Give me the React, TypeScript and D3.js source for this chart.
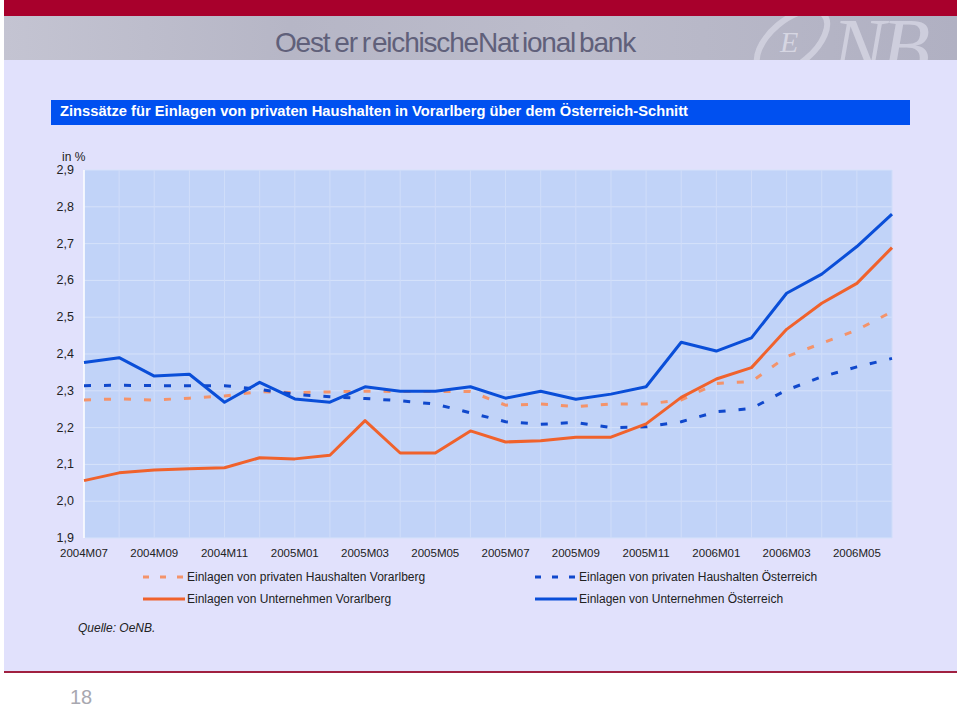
import React from "react";
import * as d3 from "d3";

const months = [
  "2004M07", "2004M08", "2004M09", "2004M10", "2004M11", "2004M12",
  "2005M01", "2005M02", "2005M03", "2005M04", "2005M05", "2005M06",
  "2005M07", "2005M08", "2005M09", "2005M10", "2005M11", "2005M12",
  "2006M01", "2006M02", "2006M03", "2006M04", "2006M05", "2006M06",
];
const tickLabels = [
  "2004M07", "2004M09", "2004M11", "2005M01", "2005M03", "2005M05",
  "2005M07", "2005M09", "2005M11", "2006M01", "2006M03", "2006M05",
];
const yTicks = [1.9, 2.0, 2.1, 2.2, 2.3, 2.4, 2.5, 2.6, 2.7, 2.8, 2.9];

const privatVorarlberg = [2.275, 2.278, 2.275, 2.28, 2.286, 2.298, 2.295, 2.297, 2.299, 2.298, 2.298, 2.298, 2.261, 2.264, 2.257, 2.264, 2.264, 2.275, 2.32, 2.325, 2.393, 2.429, 2.465, 2.515];
const privatOesterreich = [2.314, 2.315, 2.314, 2.314, 2.314, 2.304, 2.29, 2.284, 2.279, 2.273, 2.264, 2.24, 2.216, 2.209, 2.214, 2.2, 2.202, 2.216, 2.243, 2.252, 2.302, 2.338, 2.365, 2.388];
const unternehmenVorarlberg = [2.056, 2.077, 2.085, 2.088, 2.091, 2.118, 2.115, 2.125, 2.219, 2.131, 2.131, 2.191, 2.161, 2.164, 2.174, 2.174, 2.21, 2.282, 2.332, 2.363, 2.467, 2.538, 2.592, 2.689];
const unternehmenOesterreich = [2.377, 2.39, 2.34, 2.345, 2.269, 2.323, 2.278, 2.269, 2.311, 2.299, 2.299, 2.311, 2.28, 2.299, 2.277, 2.291, 2.311, 2.432, 2.408, 2.444, 2.565, 2.617, 2.692, 2.78];

const seriesNames = [
  "Einlagen von privaten Haushalten Vorarlberg",
  "Einlagen von privaten Haushalten Österreich",
  "Einlagen von Unternehmen Vorarlberg",
  "Einlagen von Unternehmen Österreich",
];

const FONT = "'Liberation Sans', Arial, sans-serif";
const NARROW = "'Liberation Sans Narrow', 'Liberation Sans', Arial, sans-serif";

export default function App() {
  const left = 84, right = 892, top = 170, bottom = 538;
  const x = d3.scalePoint<string>().domain(months).range([left, right]);
  const y = d3.scaleLinear().domain([1.9, 2.9]).range([bottom, top]);
  const line = d3
    .line<number>()
    .x((_, i) => x(months[i]) as number)
    .y((d) => y(d));
  const fmt = (v: number) => v.toFixed(1).replace(".", ",");

  const series = [
    { data: privatVorarlberg, color: "#f4936a", dash: "7,13", name: seriesNames[0] },
    { data: privatOesterreich, color: "#1048cc", dash: "7,13", name: seriesNames[1] },
    { data: unternehmenVorarlberg, color: "#f0622c", dash: "", name: seriesNames[2] },
    { data: unternehmenOesterreich, color: "#0a4ed8", dash: "", name: seriesNames[3] },
  ];
  const legendPos = [
    { x: 143, y: 581 },
    { x: 535, y: 581 },
    { x: 143, y: 603 },
    { x: 535, y: 603 },
  ];

  return (
    <svg
      width={960}
      height={716}
      style={{ position: "absolute", left: 0, top: 0, background: "#fff" }}
    >
      <defs>
        <linearGradient id="hdr" x1="0" x2="1" y1="0" y2="0">
          <stop offset="0" stopColor="#c4c4d2" />
          <stop offset="0.3" stopColor="#b6b6c6" />
          <stop offset="0.6" stopColor="#bcbccb" />
          <stop offset="1" stopColor="#b0b0c2" />
        </linearGradient>
        <clipPath id="hdrClip">
          <rect x={4} y={16} width={953} height={44} />
        </clipPath>
      </defs>
      {/* page */}
      <rect x={4} y={0} width={953} height={672} fill="#e1e1fc" />
      <rect x={4} y={0} width={953} height={16} fill="#a8002c" />
      <rect x={4} y={16} width={953} height={44} fill="url(#hdr)" />
      <text
        x={275}
        y={52}
        fontFamily={NARROW}
        fontSize={28}
        fill="#60607a"
        letterSpacing={-1.2}
      >
        <tspan>Oest</tspan>
        <tspan dx={5}>er</tspan>
        <tspan dx={5}>r</tspan>
        <tspan dx={2}>eichische</tspan>
        <tspan dx={0}>Nat</tspan>
        <tspan dx={4}>ional</tspan>
        <tspan dx={4}>bank</tspan>
      </text>
      {/* ONB logo */}
      <g clipPath="url(#hdrClip)">
        <ellipse
          cx={792}
          cy={42}
          rx={42}
          ry={22}
          fill="none"
          stroke="#d8d8e6"
          strokeWidth={6}
          opacity={0.7}
          transform="rotate(-40 792 42)"
        />
        <text x={780} y={52} fontFamily="'Liberation Serif', serif" fontStyle="italic" fontSize={30} fill="#dcdce8" opacity={0.85}>E</text>
        <text x={832} y={74} fontFamily="'Liberation Serif', serif" fontStyle="italic" fontSize={80} fill="#d6d6e4" opacity={0.8} letterSpacing={-4}>NB</text>
      </g>

      {/* title bar */}
      <rect x={51} y={100} width={859} height={25} fill="#0050f0" />
      <text
        x={60}
        y={116}
        fontFamily={FONT}
        fontSize={14}
        fontWeight="bold"
        fill="#ffffff"
        textLength={628}
        lengthAdjust="spacingAndGlyphs"
      >
        Zinssätze für Einlagen von privaten Haushalten in Vorarlberg über dem Österreich-Schnitt
      </text>

      {/* plot area */}
      <rect x={left} y={top} width={right - left} height={bottom - top} fill="#c1d3f8" />
      {yTicks.map((t) => (
        <line key={"h" + t} x1={left} x2={right} y1={y(t)} y2={y(t)} stroke="#d6e2fa" strokeWidth={1} />
      ))}
      {months.map((m) => (
        <line key={"v" + m} x1={x(m)} x2={x(m)} y1={top} y2={bottom} stroke="#d0ddf9" strokeWidth={1} />
      ))}
      <line x1={left} x2={left} y1={top} y2={bottom} stroke="#ffffff" strokeWidth={1.5} />

      {/* y axis labels */}
      <text x={62} y={161} fontFamily={FONT} fontSize={12} fill="#222">in %</text>
      {yTicks.map((t) => (
        <text key={"yl" + t} x={74} y={y(t) + 4} textAnchor="end" fontFamily={FONT} fontSize={12.5} fill="#222">
          {fmt(t)}
        </text>
      ))}
      {/* x axis labels */}
      {tickLabels.map((m) => (
        <text key={"xl" + m} x={x(m)} y={557} textAnchor="middle" fontFamily={FONT} fontSize={11.5} fill="#222">
          {m}
        </text>
      ))}

      {/* series */}
      {series.map((s, i) => (
        <path
          key={"s" + i}
          d={line(s.data) || ""}
          fill="none"
          stroke={s.color}
          strokeWidth={3}
          strokeDasharray={s.dash || undefined}
          strokeLinejoin="round"
        />
      ))}

      {/* legend */}
      {series.map((s, i) => (
        <g key={"lg" + i}>
          <line
            x1={legendPos[i].x}
            x2={legendPos[i].x + 42}
            y1={legendPos[i].y - 4}
            y2={legendPos[i].y - 4}
            stroke={s.color}
            strokeWidth={3}
            strokeDasharray={s.dash ? "6,11" : undefined}
          />
          <text x={legendPos[i].x + 44} y={legendPos[i].y} fontFamily={FONT} fontSize={12} fill="#222">
            {s.name}
          </text>
        </g>
      ))}

      <text x={78} y={632} fontFamily={FONT} fontSize={12} fontStyle="italic" fill="#222">Quelle: OeNB.</text>

      {/* footer */}
      <rect x={4} y={671} width={953} height={2} fill="#a02040" />
      <text x={70} y={704} fontFamily={FONT} fontSize={20} fill="#a8a8b0">18</text>
    </svg>
  );
}
